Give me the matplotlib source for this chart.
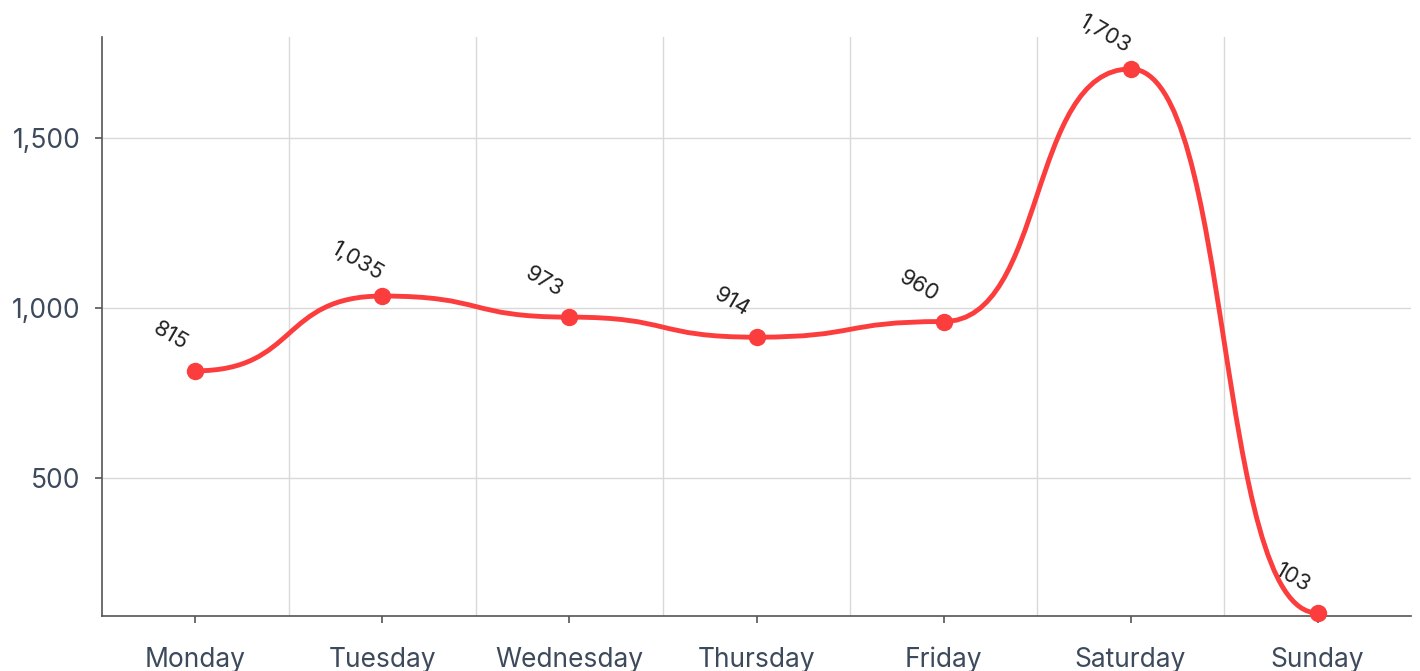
import numpy as np
import matplotlib.pyplot as plt
from matplotlib.path import Path
from matplotlib.patches import PathPatch

days = ['Monday', 'Tuesday', 'Wednesday', 'Thursday', 'Friday', 'Saturday', 'Sunday']
values = [815, 1035, 973, 914, 960, 1703, 103]
yticks = [500, 1000, 1500]

LINE = '#fc3d3d'
TEXT = '#3d4a5c'


def smooth_path(x, y, f=0.55):
    # cubic segments with flat handles at every point
    verts = [(x[0], y[0])]
    codes = [Path.MOVETO]
    for i in range(len(x) - 1):
        dx = (x[i + 1] - x[i]) * f
        verts += [(x[i] + dx, y[i]), (x[i + 1] - dx, y[i + 1]), (x[i + 1], y[i + 1])]
        codes += [Path.CURVE4] * 3
    return Path(verts, codes)


plt.rcParams['font.family'] = ['Inter', 'DejaVu Sans']

fig = plt.figure(figsize=(14.2, 6.71), dpi=100)
ax = fig.add_axes([0.0718, 0.082, 0.9219, 0.8629])

xs = np.arange(len(days))
ax.set_xlim(-0.5, len(days) - 0.5)
ax.set_ylim(94, 1797)

ax.add_patch(PathPatch(smooth_path(xs, values), fill=False, edgecolor=LINE, lw=3.5,
                       capstyle='round', joinstyle='round', zorder=3))
ax.plot(xs, values, 'o', color=LINE, ms=11.5, zorder=4, clip_on=False)

for x, v in zip(xs, values):
    ax.annotate(f'{v:,}', (x, v), xytext=(-25, 35), textcoords='offset pixels',
                ha='center', va='center', rotation=-30, fontsize=16, color='#222222',
                zorder=5, annotation_clip=False)

ax.set_xticks(xs)
ax.set_xticklabels(days)
ax.set_yticks(yticks)
ax.set_yticklabels([f'{v:,}' for v in yticks])
ax.set_xticks(np.arange(0.5, len(days) - 1, 1), minor=True)

ax.grid(True, axis='y', color='#d9d9d9', lw=1)
ax.grid(True, axis='x', which='minor', color='#d9d9d9', lw=1)
ax.set_axisbelow(True)

for s in ['top', 'right']:
    ax.spines[s].set_visible(False)
for s in ['left', 'bottom']:
    ax.spines[s].set_color('#555555')
    ax.spines[s].set_linewidth(1.2)

ax.tick_params(axis='both', which='major', labelsize=19, colors='#555555',
               labelcolor=TEXT, length=5, width=1.2)
ax.tick_params(axis='x', which='minor', length=0)
ax.tick_params(axis='x', pad=17)
ax.tick_params(axis='y', pad=10.5)

fig.savefig('out.png', dpi=100)
